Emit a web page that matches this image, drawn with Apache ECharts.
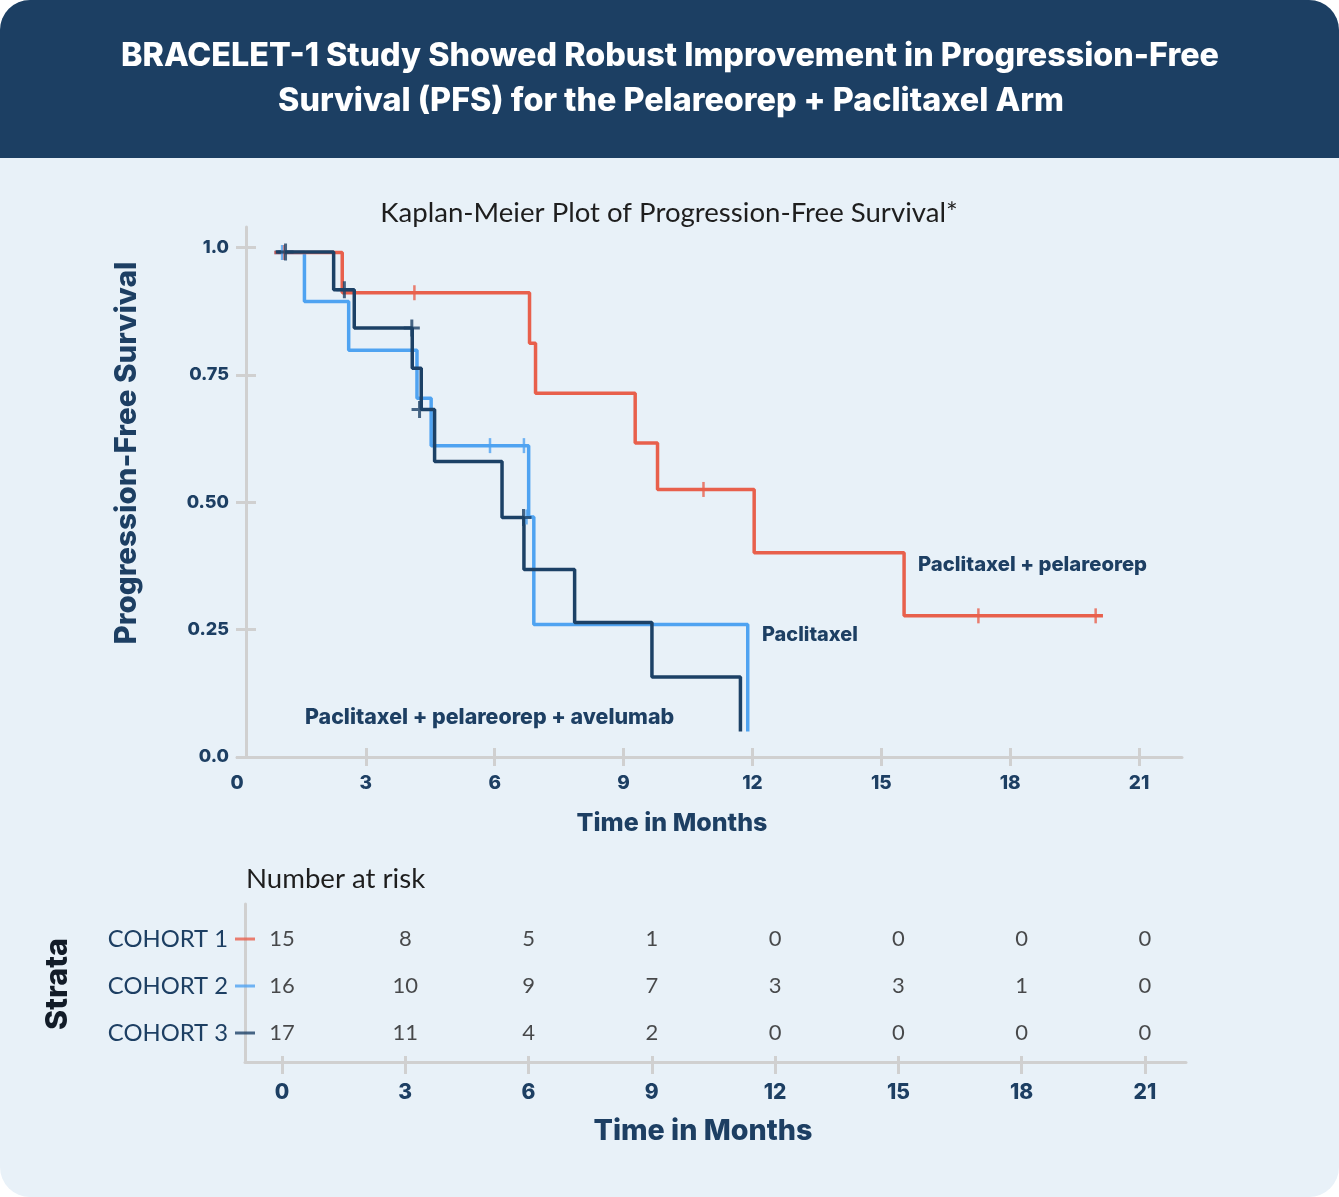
<!DOCTYPE html>
<html>
<head>
<meta charset="utf-8">
<script src="https://cdn.jsdelivr.net/npm/echarts@6/dist/echarts.min.js"></script>
<style>
  html, body { margin: 0; padding: 0; background: #ffffff; }
  #chart { width: 1339px; height: 1197px; }
</style>
</head>
<body>
<div id="chart"></div>
<script>
// ---------- DATA ----------
const titleLines = ['BRACELET-1 Study Showed Robust Improvement in Progression-Free', 'Survival (PFS) for the Pelareorep + Paclitaxel Arm'];
const plotTitle = 'Kaplan-Meier Plot of Progression-Free Survival*';
const xTickValues = [0, 3, 6, 9, 12, 15, 18, 21];
const yTickValues = [0, 0.25, 0.5, 0.75, 1];
const yTickLabels = ['0.0', '0.25', '0.50', '0.75', '1.0'];

// Cohort 1: Paclitaxel + pelareorep
const cohort1Time = [0.87, 2.45, 6.81, 6.95, 9.27, 9.79, 12.04, 15.53, 20.16];
const cohort1Surv = [0.99, 0.911, 0.812, 0.714, 0.616, 0.525, 0.401, 0.277, 0.277];
const cohort1CensorTime = [1.09, 4.13, 10.86, 17.26, 19.99];
const cohort1CensorSurv = [0.99, 0.911, 0.525, 0.277, 0.277];

// Cohort 2: Paclitaxel
const cohort2Time = [0.87, 1.57, 2.60, 4.19, 4.52, 6.79, 6.91, 11.89];
const cohort2Surv = [0.99, 0.894, 0.798, 0.704, 0.611, 0.471, 0.26, 0.05];
const cohort2CensorTime = [1.05, 5.89, 6.68, 6.74];
const cohort2CensorSurv = [0.99, 0.611, 0.611, 0.471];

// Cohort 3: Paclitaxel + pelareorep + avelumab
const cohort3Time = [0.90, 2.25, 2.73, 4.08, 4.29, 4.60, 6.17, 6.68, 7.86, 9.66, 11.72];
const cohort3Surv = [0.991, 0.917, 0.842, 0.763, 0.682, 0.58, 0.470, 0.368, 0.264, 0.157, 0.05];
const cohort3CensorTime = [1.13, 2.50, 4.07, 4.25, 6.67];
const cohort3CensorSurv = [0.991, 0.917, 0.842, 0.682, 0.470];

const seriesLabels = ['Paclitaxel + pelareorep', 'Paclitaxel', 'Paclitaxel + pelareorep + avelumab'];

// Number at risk (row 3 = top row = COHORT 1)
const cohortLabels = ['COHORT 1', 'COHORT 2', 'COHORT 3'];
const cohortRows = [3, 2, 1];
const riskTimes = [0, 3, 6, 9, 12, 15, 18, 21];
const risk1 = [15, 8, 5, 1, 0, 0, 0, 0];
const risk2 = [16, 10, 9, 7, 3, 3, 1, 0];
const risk3 = [17, 11, 4, 2, 0, 0, 0, 0];

// ---------- STYLE ----------
const RED = '#e8604c', BLUE = '#4fa3f1', NAVY = '#1c4166';
const TEXT_NAVY = '#1d3f63', TEXT_DARK = '#1e1e1e', AXIS_GREY = '#d0d0d0';
const BOLD = 'Inter, "Open Sans", sans-serif';
const REG = 'Lato, "Open Sans", sans-serif';
const noSplit = () => ({ show: false });

// font size so that a text spans a given width
const measureCtx = document.createElement('canvas').getContext('2d');
function fitSize(text, weight, family, width) {
  measureCtx.font = weight + ' 100px ' + family;
  return +(100 * width / measureCtx.measureText(text).width).toFixed(1);
}
function fitFont(text, weight, family, width) {
  return weight + ' ' + fitSize(text, weight, family, width) + 'px ' + family;
}

const zip = (a, b) => a.map((v, i) => [v, b[i]]);
const plusPath = 'path://M0,7 L16,7 L16,10 L0,10 Z M6.5,0 L9.5,0 L9.5,17 L6.5,17 Z';

function kmLine(name, t, s, color) {
  return {
    type: 'line', name, xAxisIndex: 0, yAxisIndex: 0,
    step: 'end', data: zip(t, s), showSymbol: false, symbol: 'none',
    lineStyle: { color, width: 3.5 }, z: 3, animation: false
  };
}
function censor(name, t, s, color, symbol, size) {
  return {
    type: 'scatter', name, xAxisIndex: 0, yAxisIndex: 0,
    data: zip(t, s), symbol, symbolSize: size,
    itemStyle: { color }, z: 4, animation: false, clip: false
  };
}
function riskRow(values, row) {
  return {
    type: 'scatter', xAxisIndex: 2, yAxisIndex: 2,
    data: riskTimes.map((t, i) => [t, row, values[i]]),
    symbol: 'circle', symbolSize: 1, itemStyle: { color: 'rgba(0,0,0,0)', borderWidth: 0 },
    label: { show: true, position: 'inside', formatter: p => String(p.data[2]),
             fontFamily: REG, fontSize: 22, color: TEXT_DARK },
    emphasis: { disabled: true },
    animation: false, silent: true
  };
}
function tickOnlyAxis(grid, min, max, values, inside, length) {
  return {
    type: 'value', gridIndex: grid, min, max, position: 'bottom',
    axisLine: { show: false, onZero: false },
    axisTick: { show: true, inside, customValues: values, length, lineStyle: { color: AXIS_GREY, width: 3 } },
    axisLabel: { show: false }, splitLine: noSplit(), minorSplitLine: noSplit(), splitArea: { show: false }
  };
}

const cohortFontSize = fitSize(cohortLabels[0], 400, REG, 120);

const chart = echarts.init(document.getElementById('chart'), null, { renderer: 'canvas' });

const option = {
  animation: false,
  textStyle: { fontFamily: REG },
  grid: [
    { left: 237, top: 227, width: 945, height: 530 },
    { left: 245, top: 904, width: 941, height: 158 }
  ],
  xAxis: [
    { // main x axis
      type: 'value', gridIndex: 0, min: 0, max: 22, position: 'bottom',
      axisLine: { show: true, onZero: false, lineStyle: { color: AXIS_GREY, width: 3 } },
      axisTick: { show: true, customValues: xTickValues.slice(1), length: 9, lineStyle: { color: AXIS_GREY, width: 3 } },
      axisLabel: { customValues: xTickValues, margin: 17, fontFamily: BOLD, fontWeight: 800, fontSize: 19, color: TEXT_NAVY },
      splitLine: noSplit(), minorSplitLine: noSplit(), splitArea: { show: false }
    },
    tickOnlyAxis(0, 0, 22, xTickValues.slice(1), true, 9),
    { // risk table x axis
      type: 'value', gridIndex: 1, min: -0.9, max: 22, position: 'bottom',
      axisLine: { show: true, onZero: false, lineStyle: { color: AXIS_GREY, width: 3 } },
      axisTick: { show: false },
      axisLabel: { customValues: xTickValues, margin: 20, fontFamily: BOLD, fontWeight: 800, fontSize: 21, color: TEXT_NAVY },
      splitLine: noSplit(), minorSplitLine: noSplit(), splitArea: { show: false }
    },
    tickOnlyAxis(1, -0.9, 22, xTickValues, false, 12),
    tickOnlyAxis(1, -0.9, 22, xTickValues, true, 6)
  ],
  yAxis: [
    { // main y axis
      type: 'value', gridIndex: 0, min: 0, max: 1.04, offset: -9, position: 'left',
      axisLine: { show: true, onZero: false, lineStyle: { color: AXIS_GREY, width: 3 } },
      axisTick: { show: true, customValues: yTickValues, length: 10, lineStyle: { color: AXIS_GREY, width: 3 } },
      axisLabel: { customValues: yTickValues, margin: 17, fontFamily: BOLD, fontWeight: 800, fontSize: 18, color: TEXT_NAVY,
                   formatter: v => yTickLabels[yTickValues.indexOf(v)] },
      splitLine: noSplit(), splitArea: { show: false }
    },
    { // inner ticks for main y axis
      type: 'value', gridIndex: 0, min: 0, max: 1.04, offset: -9, position: 'left',
      axisLine: { show: false, onZero: false },
      axisTick: { show: true, inside: true, customValues: yTickValues.slice(1), length: 10, lineStyle: { color: AXIS_GREY, width: 3 } },
      axisLabel: { show: false }, splitLine: noSplit(), splitArea: { show: false }
    },
    { // risk table y axis (rows)
      type: 'value', gridIndex: 1, min: 0.383, max: 3.745, position: 'left',
      axisLine: { show: true, onZero: false, lineStyle: { color: AXIS_GREY, width: 3 } },
      axisTick: { show: false },
      axisLabel: { customValues: cohortRows, margin: 17, fontFamily: REG, fontSize: cohortFontSize, color: TEXT_NAVY,
                   formatter: v => cohortLabels[cohortRows.indexOf(Math.round(v))] },
      splitLine: noSplit(), splitArea: { show: false }
    }
  ],
  series: [
    kmLine(seriesLabels[1], cohort2Time, cohort2Surv, BLUE),
    kmLine(seriesLabels[0], cohort1Time, cohort1Surv, RED),
    kmLine(seriesLabels[2], cohort3Time, cohort3Surv, NAVY),
    censor('c1', cohort1CensorTime, cohort1CensorSurv, RED, 'rect', [2.5, 15]),
    censor('c2', cohort2CensorTime, cohort2CensorSurv, BLUE, 'rect', [2.5, 15]),
    censor('c3', cohort3CensorTime, cohort3CensorSurv, NAVY, plusPath, [16, 17]),
    riskRow(risk1, cohortRows[0]), riskRow(risk2, cohortRows[1]), riskRow(risk3, cohortRows[2]),
    { // coloured strata markers on risk y axis
      type: 'scatter', xAxisIndex: 2, yAxisIndex: 2, clip: false, animation: false,
      symbol: 'rect', symbolSize: [20, 3],
      data: [
        { value: [-0.9, cohortRows[0]], itemStyle: { color: RED } },
        { value: [-0.9, cohortRows[1]], itemStyle: { color: BLUE } },
        { value: [-0.9, cohortRows[2]], itemStyle: { color: NAVY } }
      ]
    }
  ],
  graphic: [
    { type: 'rect', z: -100, shape: { x: 0, y: 0, width: 1339, height: 1197, r: 30 }, style: { fill: '#e8f1f8' } },
    { type: 'rect', z: -99, shape: { x: 0, y: 0, width: 1339, height: 158, r: [30, 30, 0, 0] }, style: { fill: '#1c3f63' } },
    { type: 'text', x: 670, y: 56, style: { text: titleLines[0], fill: '#ffffff', font: fitFont(titleLines[0], 800, BOLD, 1098), textAlign: 'center', textVerticalAlign: 'middle' } },
    { type: 'text', x: 671, y: 101, style: { text: titleLines[1], fill: '#ffffff', font: fitFont(titleLines[0], 800, BOLD, 1098), textAlign: 'center', textVerticalAlign: 'middle' } },
    { type: 'text', x: 669, y: 213, style: { text: plotTitle, fill: TEXT_DARK, font: fitFont(plotTitle, 400, REG, 578), textAlign: 'center', textVerticalAlign: 'middle' } },
    { type: 'text', x: 127, y: 453, rotation: Math.PI / 2, style: { text: 'Progression-Free Survival', fill: TEXT_NAVY, font: fitFont('Progression-Free Survival', 800, BOLD, 383), textAlign: 'center', textVerticalAlign: 'middle' } },
    { type: 'text', x: 672, y: 823, style: { text: 'Time in Months', fill: TEXT_NAVY, font: fitFont('Time in Months', 800, BOLD, 191), textAlign: 'center', textVerticalAlign: 'middle' } },
    { type: 'text', x: 918, y: 565, style: { text: seriesLabels[0], fill: TEXT_NAVY, font: fitFont(seriesLabels[0], 800, BOLD, 229), textAlign: 'left', textVerticalAlign: 'middle' } },
    { type: 'text', x: 762, y: 635, style: { text: seriesLabels[1], fill: TEXT_NAVY, font: fitFont(seriesLabels[1], 800, BOLD, 96), textAlign: 'left', textVerticalAlign: 'middle' } },
    { type: 'text', x: 305, y: 718, style: { text: seriesLabels[2], fill: TEXT_NAVY, font: fitFont(seriesLabels[2], 800, BOLD, 370), textAlign: 'left', textVerticalAlign: 'middle' } },
    { type: 'text', x: 246, y: 879, style: { text: 'Number at risk', fill: TEXT_DARK, font: fitFont('Number at risk', 400, REG, 179), textAlign: 'left', textVerticalAlign: 'middle' } },
    { type: 'text', x: 58, y: 984, rotation: Math.PI / 2, style: { text: 'Strata', fill: '#121c28', font: fitFont('Strata', 800, BOLD, 92), textAlign: 'center', textVerticalAlign: 'middle' } },
    { type: 'text', x: 703, y: 1131, style: { text: 'Time in Months', fill: TEXT_NAVY, font: fitFont('Time in Months', 800, BOLD, 219), textAlign: 'center', textVerticalAlign: 'middle' } }
  ]
};
chart.setOption(option);
</script>
</body>
</html>
